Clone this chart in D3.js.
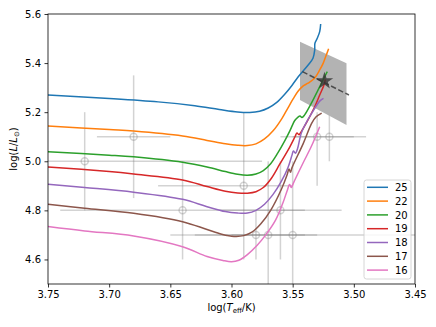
<!DOCTYPE html>
<html><head><meta charset="utf-8">
<script src="https://cdn.jsdelivr.net/npm/d3@7"></script>
<style>body{margin:0;background:#fff}svg{display:block}text{font-family:"DejaVu Sans",sans-serif}</style>
</head><body><svg id="c" width="436" height="327"></svg>
<script>
const masses = ["25","22","20","19","18","17","16"];
const colors = ["#1f77b4","#ff7f0e","#2ca02c","#d62728","#9467bd","#8c564b","#e377c2"];
const xTicks = [3.75,3.70,3.65,3.60,3.55,3.50,3.45];
const yTicks = [4.6,4.8,5.0,5.2,5.4,5.6];

// tracks: [logTeff, logL]
const track25 = [[3.75,5.270],[3.70,5.256],[3.66,5.242],[3.63,5.226],[3.61,5.211],[3.595,5.201],[3.585,5.199],[3.577,5.204],[3.570,5.217],[3.563,5.240],[3.5565,5.273],[3.5506,5.309],[3.5456,5.343],[3.5375,5.391],[3.5334,5.420],[3.532,5.453],[3.5318,5.481],[3.5299,5.501],[3.5279,5.528],[3.5271,5.559]];
const track22 = [[3.75,5.144],[3.70,5.129],[3.68,5.123],[3.64,5.103],[3.62,5.085],[3.605,5.071],[3.595,5.065],[3.587,5.064],[3.580,5.071],[3.573,5.091],[3.566,5.124],[3.5587,5.175],[3.5538,5.218],[3.5495,5.255],[3.5456,5.285],[3.5416,5.306],[3.5375,5.318],[3.532,5.339],[3.5279,5.372],[3.525,5.400],[3.5225,5.433],[3.5206,5.458]];
const track20 = [[3.75,5.039],[3.70,5.025],[3.68,5.018],[3.64,4.996],[3.62,4.977],[3.605,4.958],[3.595,4.947],[3.587,4.943],[3.580,4.948],[3.574,4.962],[3.568,4.990],[3.562,5.035],[3.5565,5.083],[3.5522,5.125],[3.5483,5.166],[3.5456,5.180],[3.544,5.184],[3.5424,5.178],[3.5402,5.189],[3.5348,5.236],[3.5293,5.290],[3.5252,5.331],[3.5217,5.365]];
const track19 = [[3.75,4.977],[3.70,4.958],[3.68,4.948],[3.64,4.924],[3.62,4.897],[3.605,4.878],[3.595,4.871],[3.587,4.870],[3.580,4.876],[3.574,4.893],[3.5675,4.930],[3.5606,4.988],[3.5524,5.058],[3.548,5.101],[3.5465,5.115],[3.5448,5.108],[3.5432,5.119],[3.5389,5.155],[3.532,5.222],[3.5279,5.270],[3.5244,5.311],[3.5233,5.334]];
const track18 = [[3.75,4.906],[3.72,4.893],[3.68,4.874],[3.64,4.845],[3.62,4.815],[3.605,4.795],[3.595,4.789],[3.587,4.789],[3.580,4.800],[3.573,4.825],[3.566,4.865],[3.5593,4.918],[3.5538,4.975],[3.5506,5.024],[3.5494,5.042],[3.5477,5.033],[3.5461,5.050],[3.5426,5.119],[3.5344,5.196],[3.5277,5.246],[3.5248,5.256]];
const track17 = [[3.75,4.825],[3.72,4.809],[3.68,4.788],[3.64,4.754],[3.62,4.722],[3.608,4.703],[3.598,4.694],[3.590,4.697],[3.583,4.712],[3.576,4.745],[3.568,4.800],[3.5593,4.885],[3.5546,4.944],[3.553,4.969],[3.5518,4.955],[3.5506,4.973],[3.5413,5.073],[3.5344,5.155],[3.531,5.180],[3.5263,5.196]];
const track16 = [[3.75,4.734],[3.72,4.716],[3.68,4.696],[3.64,4.652],[3.62,4.612],[3.607,4.596],[3.600,4.591],[3.594,4.597],[3.587,4.620],[3.579,4.658],[3.572,4.700],[3.564,4.760],[3.558,4.830],[3.5545,4.880],[3.5525,4.905],[3.551,4.893],[3.5495,4.910],[3.5416,4.992],[3.5348,5.060],[3.5279,5.141]];
const tracks = [track25,track22,track20,track19,track18,track17,track16];

// observations: logTeff, logL, x-err low, x-err high, y-err low, y-err high
const obsT   = [3.72, 3.68, 3.64, 3.59, 3.53, 3.52, 3.56, 3.58, 3.57, 3.55];
const obsL   = [5.00, 5.10, 4.80, 4.90, 5.10, 5.10, 4.80, 4.70, 4.70, 4.70];
const obsXlo = [0.145,0.03, 0.10, 0.04, 0.03, 0.03, 0.05, 0.05, 0.03, 0.10];
const obsXhi = [0.145,0.03, 0.10, 0.07, 0.03, 0.03, 0.05, 0.05, 0.03, 0.10];
const obsYlo = [0.20, 0.25, 0.20, 0.30, 0.20, 0.10, 0.20, 0.10, 0.30, 0.30];
const obsYhi = [0.20, 0.25, 0.20, 0.30, 0.10, 0.10, 0.20, 0.10, 0.30, 0.30];

const boxPoly = [[3.544,5.487],[3.506,5.399],[3.506,5.148],[3.544,5.250]];
const dashLine = [[3.542,5.365],[3.504,5.270]];
const starPt = [3.524,5.327];

const svg = d3.select("#c");
const L=48,R=415,T=14,B=284;
const x = d3.scaleLinear().domain([3.75,3.45]).range([L,R]);
const y = d3.scaleLinear().domain([4.5,5.6]).range([B,T]);

svg.append("defs").append("clipPath").attr("id","clip").append("rect")
  .attr("x",L).attr("y",T).attr("width",R-L).attr("height",B-T);
const g = svg.append("g").attr("clip-path","url(#clip)");

// error bars
const eb = g.append("g").attr("stroke","#808080").attr("stroke-opacity",0.35).attr("fill","none").attr("stroke-width",1.5);
obsT.forEach((t,i)=>{
  eb.append("line").attr("x1",x(t-obsXlo[i])).attr("x2",x(t+obsXhi[i])).attr("y1",y(obsL[i])).attr("y2",y(obsL[i]));
  eb.append("line").attr("x1",x(t)).attr("x2",x(t)).attr("y1",y(obsL[i]-obsYlo[i])).attr("y2",y(obsL[i]+obsYhi[i]));
  eb.append("circle").attr("cx",x(t)).attr("cy",y(obsL[i])).attr("r",3.5);
});

// box
g.append("path").attr("d", d3.line().x(d=>x(d[0])).y(d=>y(d[1]))(boxPoly)+"Z")
  .attr("fill","#b3b3b3").attr("stroke","none");

// tracks
const line = d3.line().x(d=>x(d[0])).y(d=>y(d[1])).curve(d3.curveCatmullRom.alpha(0.5));
tracks.forEach((tr,i)=>{
  g.append("path").attr("d",line(tr)).attr("fill","none").attr("stroke",colors[i]).attr("stroke-width",1.5);
});

// dashed line
g.append("path").attr("d",d3.line().x(d=>x(d[0])).y(d=>y(d[1]))(dashLine))
  .attr("stroke","#333").attr("stroke-opacity",0.8).attr("stroke-width",1.5).attr("stroke-dasharray","5.5,2.5").attr("fill","none");

// star
g.append("path").attr("d",d3.symbol(d3.symbolStar,95)())
  .attr("transform",`translate(${x(starPt[0])},${y(starPt[1])})`)
  .attr("fill","#333").attr("fill-opacity",0.8);

// axes
const xa = svg.append("g").attr("transform",`translate(0,${B})`)
  .call(d3.axisBottom(x).tickValues(xTicks).tickFormat(d3.format(".2f")).tickSize(3.5).tickPadding(3.5));
const ya = svg.append("g").attr("transform",`translate(${L},0)`)
  .call(d3.axisLeft(y).tickValues(yTicks).tickFormat(d3.format(".1f")).tickSize(3.5).tickPadding(3.5));
[xa,ya].forEach(a=>{a.select(".domain").remove();a.selectAll("text").attr("font-size",10).attr("fill","#000").attr("font-family","DejaVu Sans");a.selectAll("line").attr("stroke","#000").attr("stroke-width",0.8);});
svg.append("rect").attr("x",L).attr("y",T).attr("width",R-L).attr("height",B-T).attr("fill","none").attr("stroke","#000").attr("stroke-width",0.8);

// labels
const xl = svg.append("text").attr("x",(L+R)/2).attr("y",311).attr("text-anchor","middle").attr("font-size",10);
xl.append("tspan").text("log(");
xl.append("tspan").attr("font-style","italic").text("T");
xl.append("tspan").attr("font-size",7).attr("dy",2).text("eff");
xl.append("tspan").attr("dy",-2).text("/K)");
const yl = svg.append("text").attr("transform",`translate(17,${(T+B)/2}) rotate(-90)`).attr("text-anchor","middle").attr("font-size",10);
yl.append("tspan").text("log(");
yl.append("tspan").attr("font-style","italic").text("L");
yl.append("tspan").text("/");
yl.append("tspan").attr("font-style","italic").text("L");
yl.append("tspan").attr("font-size",7).attr("dy",2).text("⊙");
yl.append("tspan").attr("dy",-2).text(")");

// legend
const lg = svg.append("g");
lg.append("rect").attr("x",364).attr("y",180).attr("width",47).attr("height",99).attr("rx",2.5)
  .attr("fill","#fff").attr("fill-opacity",0.8).attr("stroke","#ccc").attr("stroke-width",0.8);
masses.forEach((m,i)=>{
  const yy = 187.3 + i*13.8;
  lg.append("line").attr("x1",367).attr("x2",388).attr("y1",yy).attr("y2",yy).attr("stroke",colors[i]).attr("stroke-width",1.5);
  lg.append("text").attr("x",395).attr("y",yy+3.6).attr("font-size",10).attr("fill","#000").text(m);
});
</script></body></html>
